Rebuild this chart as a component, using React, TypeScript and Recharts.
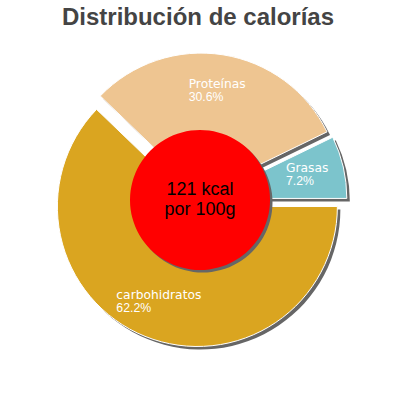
import { Pie, PieChart, Sector, Cell } from 'recharts'

// Calorie split per 100 g.
const SLICE_NAMES = ['Grasas', 'Proteínas', 'carbohidratos']
const SLICE_SHARES = [7.2, 30.6, 62.2]
const SLICE_COLORS = ['#7cc4cc', '#eec591', '#daa520']
const KCAL = [121]
const CENTER_LINES = [`${KCAL[0]} kcal`, 'por 100g']
const TITLE = 'Distribución de calorías'

const slices = SLICE_NAMES.map((name, i) => ({ name, value: SLICE_SHARES[i] }))
const center = KCAL.map((value) => ({ name: 'kcal', value }))

const RAD = Math.PI / 180
const EXPLODE = 7
const SHADOW = 3
const LABEL_DIST = 110
const SHADOW_COLOR = '#666666'

const LABEL_SIZE = 12.3
const NAME_FONT = `${LABEL_SIZE}px "DejaVu Sans"`
const PCT_FONT = `${LABEL_SIZE}px "Liberation Sans"`

let measureCtx: CanvasRenderingContext2D | null = null
function textWidth(s: string, font: string) {
  if (!measureCtx) measureCtx = document.createElement('canvas').getContext('2d')
  if (!measureCtx) return s.length * 7
  measureCtx.font = font
  return measureCtx.measureText(s).width
}

function shifted(p: any, dist: number) {
  return {
    x: p.cx + dist * Math.cos(-p.midAngle * RAD),
    y: p.cy + dist * Math.sin(-p.midAngle * RAD),
  }
}

function SliceShadow(props: any) {
  const c = shifted(props, EXPLODE)
  return (
    <Sector
      cx={c.x + SHADOW}
      cy={c.y + SHADOW}
      innerRadius={0}
      outerRadius={props.outerRadius}
      startAngle={props.startAngle}
      endAngle={props.endAngle}
      fill={SHADOW_COLOR}
      stroke="none"
    />
  )
}

function Slice(props: any) {
  const c = shifted(props, EXPLODE)
  return (
    <Sector
      cx={c.x}
      cy={c.y}
      innerRadius={0}
      outerRadius={props.outerRadius}
      startAngle={props.startAngle}
      endAngle={props.endAngle}
      fill={props.fill}
      stroke="#ffffff"
      strokeWidth={1}
    />
  )
}

// two-line label (name over share), left aligned, block centred on the anchor
function SliceLabel(props: any) {
  const p = shifted(props, LABEL_DIST)
  const name = String(props.name)
  const pct = `${(props.percent * 100).toFixed(1)}%`
  const w = Math.max(textWidth(name, NAME_FONT), textWidth(pct, PCT_FONT))
  const left = p.x - w / 2
  return (
    <text fontSize={LABEL_SIZE} fill="#ffffff">
      <tspan x={left} y={p.y - 3.4} fontFamily="DejaVu Sans">
        {name}
      </tspan>
      <tspan x={left} y={p.y + 10.1} fontFamily="Liberation Sans">
        {pct}
      </tspan>
    </text>
  )
}

function CenterLabel(props: any) {
  return (
    <text
      textAnchor="middle"
      fontFamily="Liberation Sans, Arial, sans-serif"
      fontSize={18}
      fill="#000000"
    >
      <tspan x={props.cx} y={props.cy - 5.5}>
        {CENTER_LINES[0]}
      </tspan>
      <tspan x={props.cx} y={props.cy + 15}>
        {CENTER_LINES[1]}
      </tspan>
    </text>
  )
}

export default function App() {
  return (
    <div style={{ position: 'absolute', left: 0, top: 0, width: 400, height: 400, background: '#fff' }}>
      <svg width={400} height={40} style={{ position: 'absolute', left: 0, top: 0 }}>
        <text
          x={198}
          y={25}
          textAnchor="middle"
          fontFamily="Liberation Sans, Arial, sans-serif"
          fontWeight="bold"
          fontSize={24}
          fill="#444444"
        >
          {TITLE}
        </text>
      </svg>
      <div style={{ position: 'absolute', left: 0, top: 0 }}>
        <PieChart width={400} height={400} margin={{ top: 0, right: 0, bottom: 0, left: 0 }}>
          <Pie
            data={slices}
            dataKey="value"
            nameKey="name"
            cx={200}
            cy={200}
            outerRadius={140}
            startAngle={0}
            endAngle={360}
            shape={SliceShadow}
            stroke="none"
            isAnimationActive={false}
          >
            {slices.map((_, i) => (
              <Cell key={i} fill={SHADOW_COLOR} />
            ))}
          </Pie>
          <Pie
            data={slices}
            dataKey="value"
            nameKey="name"
            cx={200}
            cy={200}
            outerRadius={140}
            startAngle={0}
            endAngle={360}
            shape={Slice}
            label={SliceLabel}
            labelLine={false}
            isAnimationActive={false}
          >
            {slices.map((_, i) => (
              <Cell key={i} fill={SLICE_COLORS[i]} />
            ))}
          </Pie>
          <Pie
            data={center}
            dataKey="value"
            cx={200 + 2.5}
            cy={200 + 2.5}
            outerRadius={70}
            fill={SHADOW_COLOR}
            stroke="none"
            isAnimationActive={false}
          />
          <Pie
            data={center}
            dataKey="value"
            cx={200}
            cy={200}
            outerRadius={70}
            fill="#ff0000"
            stroke="none"
            label={CenterLabel}
            labelLine={false}
            isAnimationActive={false}
          />
        </PieChart>
      </div>
    </div>
  )
}
